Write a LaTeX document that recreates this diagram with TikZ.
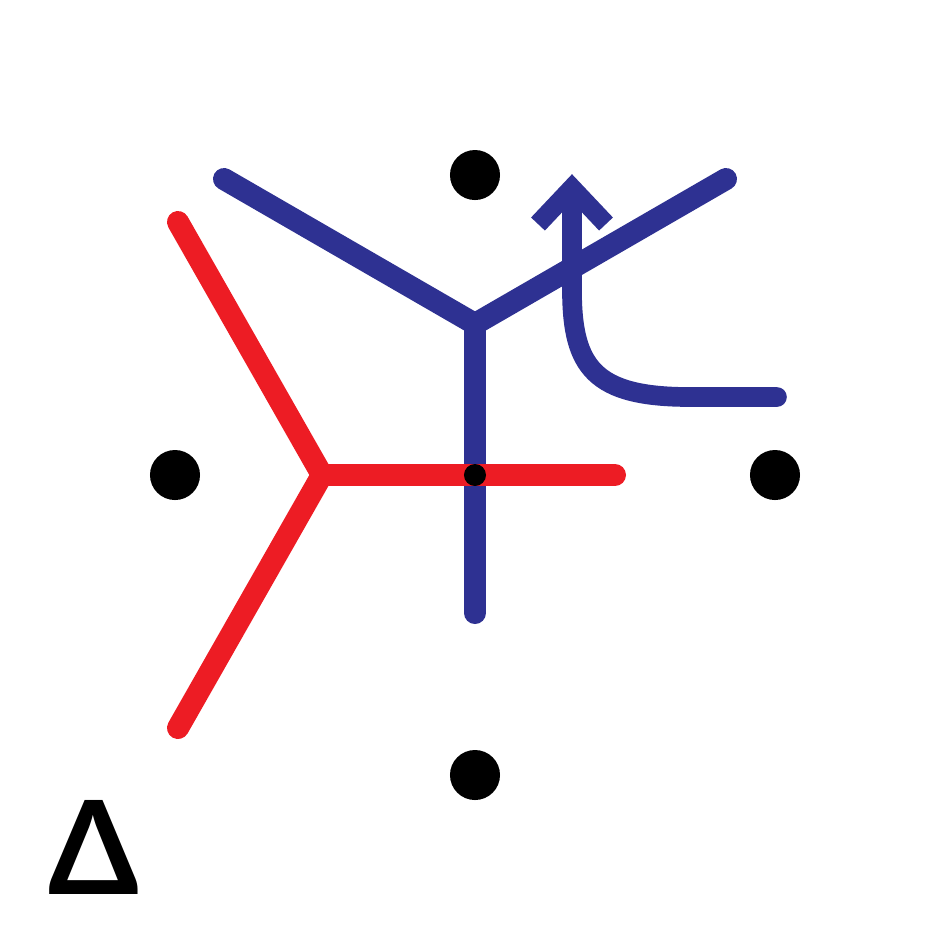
\documentclass[tikz,border=0pt]{standalone}
\usepackage{fontspec}
\newfontfamily\deltafont{Lato}
\definecolor{vblue}{HTML}{2E3192}
\definecolor{vred}{HTML}{ED1C24}
\begin{document}
\begin{tikzpicture}[x=0.01cm,y=-0.01cm,
  site/.style={circle,fill=black,inner sep=0pt,minimum size=0.5cm},
  edgeb/.style={draw=vblue,line width=6.26pt,line cap=round,line join=miter},
  edger/.style={draw=vred,line width=6.26pt,line cap=round,line join=miter},
  flow/.style={draw=vblue,line width=5.6pt,line cap=round}]
\useasboundingbox (0,0) rectangle (950,950);
\fill[white] (0,0) rectangle (950,950);
% sites
\node[site] (n) at (475,175) {};
\node[site] (w) at (175,475) {};
\node[site] (e) at (775,475) {};
\node[site] (s) at (475,775) {};
% blue Y
\coordinate (bc) at (475,324);
\coordinate (bl) at (224,179);
\coordinate (br) at (726,179);
\coordinate (bd) at (475,613);
\draw[edgeb] (bl) -- (bc) -- (br);
\draw[edgeb] (bc) -- (bd);
\path[fill=vblue] (bc) ++(-11,0) rectangle ++(22,30);
% red Y
\coordinate (rc) at (322,475);
\coordinate (rt) at (178,222);
\coordinate (rb) at (178,728);
\coordinate (rr) at (615,475);
\draw[edger] (rt) -- (rc) -- (rb);
\draw[edger] (rc) -- (rr);
\path[fill=vred] (rc) ++(0,-11) rectangle ++(30,22);
% centre dot
\node[circle,fill=black,inner sep=0pt,minimum size=0.22cm] (c) at (475,475) {};
% arrow
\coordinate (a0) at (777,397);
\coordinate (a1) at (690,397);
\coordinate (a2) at (572,290);
\coordinate (a3) at (572,190);
\draw[flow] (a0) -- (a1) .. controls (595,397) and (572,368) .. (a2) -- (a3);
\coordinate (hl) at (538,224);
\coordinate (ht) at (572,188);
\coordinate (hr) at (606,224);
\draw[draw=vblue,line width=5.4pt,line cap=butt,line join=miter] (hl) -- (ht) -- (hr);
% delta
\node[inner sep=0pt,font=\deltafont\bfseries\fontsize{37}{37}\selectfont] (d) at (94,847) {Δ};
\end{tikzpicture}
\end{document}
